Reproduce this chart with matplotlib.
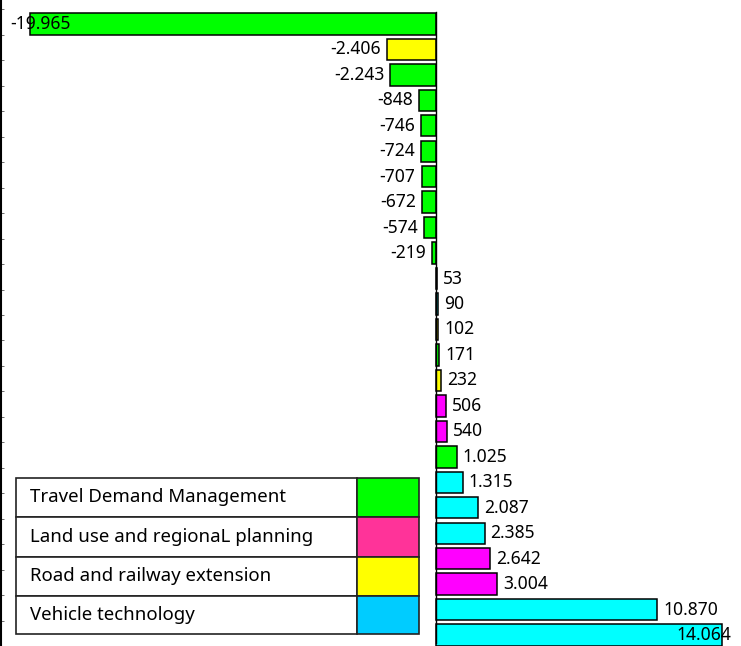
import matplotlib
matplotlib.use("Agg")
import matplotlib.pyplot as plt
from matplotlib.patches import Rectangle

# Emission change per measure (sorted), with category of each measure
values = [-19965, -2406, -2243, -848, -746, -724, -707, -672, -574, -219,
          53, 90, 102, 171, 232, 506, 540, 1025, 1315, 2087, 2385, 2642,
          3004, 10870, 14064]
groups = ["tdm", "road", "tdm", "tdm", "tdm", "tdm", "tdm", "tdm", "tdm", "tdm",
          "tdm", "veh", "road", "tdm", "road", "land", "land", "tdm", "veh", "veh",
          "veh", "land", "land", "veh", "veh"]

bar_colors = {"tdm": "#00ff00", "road": "#ffff00", "land": "#ff00ff", "veh": "#00ffff"}

legend_labels = ["Travel Demand Management", "Land use and regionaL planning",
                 "Road and railway extension", "Vehicle technology"]
legend_colors = ["#00ff00", "#ff3399", "#ffff00", "#00ccff"]

W, H, DPI = 741, 646, 100
fig = plt.figure(figsize=(W / DPI, H / DPI), dpi=DPI)
ax = fig.add_axes([1 / W, 0, 1 - 1 / W, 1])

n = len(values)
ypos = list(range(n))
ax.barh(ypos, values, height=0.84, color=[bar_colors[g] for g in groups],
        edgecolor="black", linewidth=1.1, zorder=2)

ax.set_xlim(-21380, 14990)
ax.set_ylim(24.31, -0.94)

# zero line along the bars
ax.plot([0, 0], [-0.45, 24.31], color="black", linewidth=1.0, zorder=3)


def fmt(v):
    s = f"{abs(v):,}".replace(",", ".")
    return ("-" if v < 0 else "") + s


font = "Noto Sans"
fs = 12.6
for i, v in enumerate(values):
    if i == 0:
        ax.annotate(fmt(v), (v, i), xytext=(-20 * 0.72, 0), textcoords="offset points",
                    ha="left", va="center", fontsize=fs, family=font, zorder=4)
    elif i == n - 1:
        ax.annotate(fmt(v), (v, i), xytext=(9 * 0.72, 0), textcoords="offset points",
                    ha="right", va="center", fontsize=fs, family=font, zorder=4)
    elif v < 0:
        ax.annotate(fmt(v), (v, i), xytext=(-6 * 0.72, 0), textcoords="offset points",
                    ha="right", va="center", fontsize=fs, family=font, zorder=4)
    else:
        ax.annotate(fmt(v), (v, i), xytext=(6 * 0.72, 0), textcoords="offset points",
                    ha="left", va="center", fontsize=fs, family=font, zorder=4)

# axis styling: only the left spine with small inward ticks
for s in ["top", "right", "bottom"]:
    ax.spines[s].set_visible(False)
ax.spines["left"].set_linewidth(1.5)
ax.set_xticks([])
ax.set_yticks([i + 0.43 for i in range(-1, n)])
ax.set_yticklabels([])
ax.tick_params(axis="y", direction="in", length=2, width=0.6, color="#555555")

# legend drawn as a two-column table
x0, x1, xc = 16 / W, 419 / W, 357 / W
row_edges = [478, 517, 556.5, 596, 634]
for k, (lab, col) in enumerate(zip(legend_labels, legend_colors)):
    top = 1 - row_edges[k] / H
    bot = 1 - row_edges[k + 1] / H
    fig.patches.append(Rectangle((x0, bot), xc - x0, top - bot, transform=fig.transFigure,
                                 facecolor="white", edgecolor="#222222", linewidth=1.2, zorder=5))
    fig.patches.append(Rectangle((xc, bot), x1 - xc, top - bot, transform=fig.transFigure,
                                 facecolor=col, edgecolor="#222222", linewidth=1.2, zorder=5))
    fig.text(30 / W, (top + bot) / 2, lab, ha="left", va="center", fontsize=13.4,
             family=font, zorder=6)

fig.savefig("out.png", dpi=DPI)
